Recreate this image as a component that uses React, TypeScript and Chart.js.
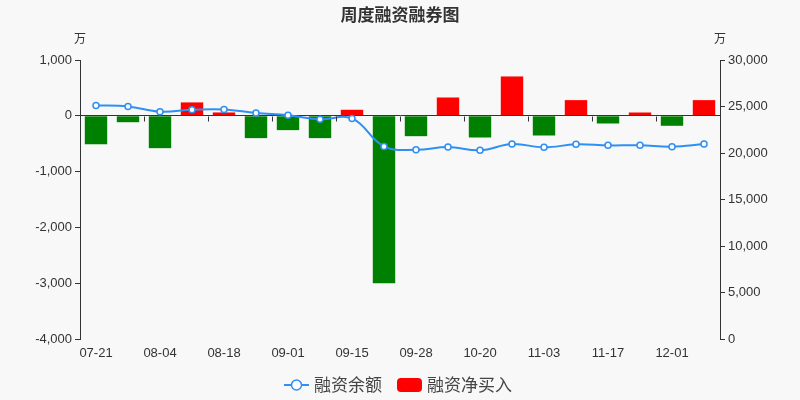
import React, { useEffect, useRef } from 'react';
import { Chart, registerables } from 'chart.js';

Chart.register(...registerables);

const categories = ['07-21', '07-28', '08-04', '08-11', '08-18', '08-25', '09-01', '09-08', '09-15', '09-22', '09-28', '10-13', '10-20', '10-27', '11-03', '11-10', '11-17', '11-24', '12-01', '12-08'];
const netBuy = [-510, -115, -580, 240, 60, -400, -257, -400, 108, -3000, -365, 328, -389, 705, -353, 281, -138, 59, -179, 281];
const balance = [25120, 25010, 24440, 24650, 24690, 24300, 24050, 23620, 23720, 20710, 20350, 20640, 20290, 20960, 20610, 20930, 20820, 20820, 20670, 20960];
const leftRange = { min: -4000, max: 1000, step: 1000 };
const rightRange = { min: 0, max: 30000, step: 5000 };
const titleText = '周度融资融券图';
const unitText = '万';
const lineName = '融资余额';
const barName = '融资净买入';

const FONT = '"Liberation Sans", "Noto Sans CJK SC", sans-serif';
const CJK = '"Noto Sans CJK SC", "Liberation Sans", sans-serif';
const BG = '#f8f8f8';
const TEXT = '#333333';
const LINE = '#2e8ff5';
const RED = '#ff0000';
const GREEN = '#008000';

const decor = {
  id: 'decor',
  beforeDraw(chart: any) {
    const c = chart.ctx;
    c.save();
    c.fillStyle = BG;
    c.fillRect(0, 0, chart.width, chart.height);
    c.restore();
  },
  afterDraw(chart: any) {
    const c = chart.ctx;
    const x = chart.scales.x;
    const yl = chart.scales.y;
    const yr = chart.scales.y1;
    c.save();
    const zeroY = Math.round(yl.getPixelForValue(0)) + 0.5;
    const half = (x.getPixelForValue(1) - x.getPixelForValue(0)) / 2;
    c.strokeStyle = TEXT;
    c.lineWidth = 1;
    for (let i = 0; i <= categories.length; i += 2) {
      const px = Math.round(x.getPixelForValue(i) - half) + 0.5;
      c.beginPath();
      c.moveTo(px, zeroY);
      c.lineTo(px, zeroY + 5);
      c.stroke();
    }
    c.fillStyle = TEXT;
    c.textAlign = 'center';
    c.textBaseline = 'middle';
    c.font = 'bold 17px ' + CJK;
    c.fillText(titleText, 400, 15);
    c.font = '12px ' + CJK;
    c.fillText(unitText, yl.right, 38);
    c.fillText(unitText, yr.left, 38);
    const ly = 385;
    c.strokeStyle = LINE;
    c.lineWidth = 2;
    c.beginPath();
    c.moveTo(284, ly);
    c.lineTo(309, ly);
    c.stroke();
    c.beginPath();
    c.arc(296.5, ly, 5, 0, Math.PI * 2);
    c.fillStyle = '#ffffff';
    c.fill();
    c.lineWidth = 1.5;
    c.stroke();
    c.fillStyle = '#444444';
    c.textAlign = 'left';
    c.font = '17px ' + CJK;
    c.fillText(lineName, 314, ly);
    c.fillStyle = RED;
    c.beginPath();
    (c as any).roundRect(397, ly - 7, 25, 14, 4);
    c.fill();
    c.fillStyle = '#444444';
    c.fillText(barName, 427, ly);
    c.restore();
  },
};

export default function App() {
  const ref = useRef<HTMLCanvasElement>(null);
  useEffect(() => {
    document.body.style.margin = '0';
    document.body.style.background = BG;
    const chart = new Chart(ref.current as HTMLCanvasElement, {
      data: {
        labels: categories,
        datasets: [
          {
            type: 'line',
            label: lineName,
            data: balance,
            yAxisID: 'y1',
            borderColor: LINE,
            borderWidth: 2,
            tension: 0.4,
            pointRadius: 3,
            pointBackgroundColor: '#ffffff',
            pointBorderColor: LINE,
            pointBorderWidth: 1.5,
            order: 0,
          } as any,
          {
            type: 'bar',
            label: barName,
            data: netBuy,
            yAxisID: 'y',
            backgroundColor: netBuy.map((v) => (v >= 0 ? RED : GREEN)),
            barPercentage: 0.7,
            categoryPercentage: 1,
            order: 1,
          } as any,
        ],
      },
      options: {
        responsive: false,
        animation: false,
        layout: { padding: { top: 60, left: 0, right: 0, bottom: 0 } },
        plugins: { legend: { display: false }, tooltip: { enabled: false }, title: { display: false } },
        scales: {
          x: {
            type: 'category',
            offset: true,
            grid: { display: false, drawTicks: false },
            border: { display: false },
            ticks: {
              autoSkip: false,
              maxRotation: 0,
              padding: 7,
              color: TEXT,
              font: { size: 13, family: FONT },
              callback: (_v: any, i: number) => (i % 2 === 0 ? categories[i] : ''),
            },
            afterFit: (s: any) => { s.height = 61; },
          },
          y: {
            position: 'left',
            min: leftRange.min,
            max: leftRange.max,
            ticks: {
              stepSize: leftRange.step,
              padding: 3,
              color: TEXT,
              font: { size: 13, family: FONT },
              callback: (v: any) => Number(v).toLocaleString('en-US'),
            },
            grid: {
              drawOnChartArea: true,
              drawTicks: true,
              tickLength: 5,
              tickColor: TEXT,
              color: (ctx: any) => (ctx.tick && ctx.tick.value === 0 ? TEXT : 'rgba(0,0,0,0)'),
            },
            border: { display: true, color: TEXT },
            afterFit: (s: any) => { s.width = 80; },
          },
          y1: {
            position: 'right',
            min: rightRange.min,
            max: rightRange.max,
            ticks: {
              stepSize: rightRange.step,
              padding: 3,
              color: TEXT,
              font: { size: 13, family: FONT },
              callback: (v: any) => Number(v).toLocaleString('en-US'),
            },
            grid: { drawOnChartArea: false, drawTicks: true, tickLength: 5, tickColor: TEXT, color: TEXT },
            border: { display: true, color: TEXT },
            afterFit: (s: any) => { s.width = 80; },
          },
        },
      } as any,
      plugins: [decor],
    });
    return () => chart.destroy();
  }, []);
  return (
    <div style={{ width: 800, height: 400, background: BG }}>
      <canvas ref={ref} width={800} height={400} />
    </div>
  );
}
